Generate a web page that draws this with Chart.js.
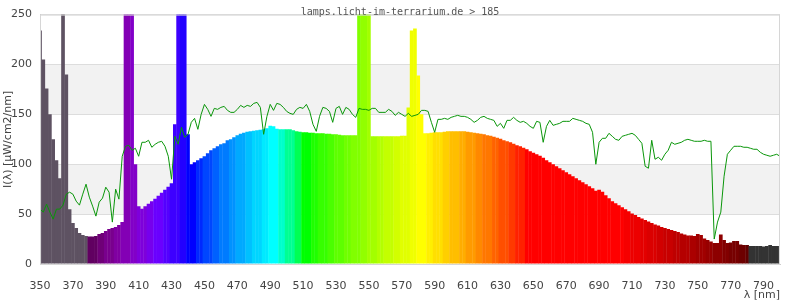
<!DOCTYPE html>
<html>
<head>
<meta charset="utf-8">
<script src="https://cdn.jsdelivr.net/npm/chart.js@4/dist/chart.umd.min.js"></script>
<style>
  body { margin: 0; background: #fff; }
  canvas { display: block; }
</style>
</head>
<body>
<canvas id="spectrum" width="800" height="300"></canvas>
<script>
// wellenlaengen: 350..800 nm, alle 2 nm
const wlStart = 350;
const wlStep = 2;

// Lampenspektrum (farbige Flaeche)
const lampValues = [
  234, 205, 176, 150, 125, 104, 86, 290, 190, 55,
  41, 36, 31, 29, 28, 27.5, 27.5, 28, 30, 31,
  33, 35, 36, 37, 39, 42, 260, 300, 260, 100,
  58, 55.5, 58, 60.5, 63, 65.5, 68.5, 71.5, 74.5, 77.5,
  81, 140, 300, 300, 300, 130, 100, 102, 104, 106,
  108, 111, 114, 116, 118, 120, 121, 124, 125, 127,
  129, 130.5, 131.5, 132.5, 133, 133.5, 134, 134.5, 135, 136,
  138.5, 138, 135.5, 135, 135, 135, 135, 134, 133, 132.5,
  132, 132, 131.5, 131.5, 131, 131, 131, 130.5, 130.5, 130,
  130, 129.5, 129, 129, 129, 129, 129, 300, 300, 300,
  300, 128, 128, 128, 128, 128, 128, 128, 128, 128,
  128.5, 128.5, 157, 234, 236, 189, 150, 131, 131, 131.5,
  132, 132, 132, 132.5, 133, 133, 133, 133, 133, 133,
  132.5, 132, 131.5, 131, 130.5, 130, 129, 128.5, 127.5, 126.5,
  125.5, 124, 123, 122, 120.5, 119, 118, 116.5, 115, 113,
  111.5, 110, 108.5, 106.5, 104, 102, 100, 98, 96, 94,
  92, 90, 88, 86, 84, 82, 80, 78, 76, 73.5,
  74.5, 72.5, 69, 66, 63, 61, 59, 57, 55, 53,
  50.5, 49, 47, 45.5, 44, 42.5, 41, 39.5, 38.5, 37,
  36, 35, 34, 33, 32, 30.5, 29.5, 28.5, 28.5, 28,
  30, 29, 25.5, 24, 22.5, 21, 21, 29.5, 24, 21,
  21.5, 23, 23, 19.5, 19, 19, 18, 18, 18, 18,
  17.5, 18, 19, 18, 18, 18
];

// Referenz (gruene Linie)
const sunValues = [
  55, 52, 60, 52, 45, 55, 55, 59, 70, 72,
  70, 63, 59, 70, 80, 67, 58, 48, 62, 66,
  77, 72, 42, 75, 65, 108, 118, 119, 114, 116,
  108, 122, 122, 124, 117, 120, 122, 123, 118, 108,
  85, 128, 120, 137, 127, 130, 142, 146, 135, 150,
  160, 155, 148, 156, 155, 157, 158, 154, 152, 152,
  155, 159, 157, 159, 158, 161, 162, 157, 130, 148,
  160, 154, 161, 160, 157, 153, 151, 150, 155, 157,
  156, 160, 153, 140, 133, 148, 157, 156, 153, 142,
  156, 158, 150, 157, 155, 150, 147, 156, 155, 155,
  154, 156, 156, 152, 152, 152, 155, 153, 149, 152,
  150, 148, 151, 148, 149, 150, 154, 154, 153, 142,
  132, 145, 145, 146, 145, 147, 148, 149, 148, 148,
  147, 145, 142, 144, 147, 148, 146, 145, 144, 138,
  141, 136, 144, 144, 147, 144, 142, 143, 141, 138,
  136, 143, 142, 122, 138, 144, 139, 140, 141, 143,
  143, 143, 146, 145, 144, 143, 141, 140, 132, 100,
  122, 126, 126, 131, 128, 125, 124, 128, 129, 130,
  131, 129, 125, 121, 98, 96, 124, 105, 107, 104,
  110, 114, 122, 120, 121, 122, 124, 125, 124, 123,
  123, 123, 124, 123, 123, 25, 42, 52, 88, 110,
  114, 118, 118, 118, 117, 117, 116, 115, 115, 112,
  110, 109, 108, 109, 110, 108
];

const xTicks = [350, 370, 390, 410, 430, 450, 470, 490, 510, 530, 550, 570, 590, 610, 630, 650, 670, 690, 710, 730, 750, 770, 790];
const yTicks = [0, 50, 100, 150, 200, 250];

const chartTitle = "lamps.licht-im-terrarium.de > 185";
const yTitle = "I(\u03bb) [\u00b5W/cm2/nm]";
const xTitle = "\u03bb [nm]";

const wavelengths = lampValues.map((_, i) => wlStart + i * wlStep);

// Farbe zur Wellenlaenge (Bruton), in 5-nm-Stufen
function specColor(w) {
  if (w < 379) return "#5e5262";
  if (w > 781) return "#333333";
  w = Math.min(780, Math.max(380, Math.floor(w / 5) * 5));
  let r = 0, g = 0, b = 0;
  if (w < 440) { r = -(w - 440) / 60; b = 1; }
  else if (w < 490) { g = (w - 440) / 50; b = 1; }
  else if (w < 510) { g = 1; b = -(w - 510) / 20; }
  else if (w < 580) { r = (w - 510) / 70; g = 1; }
  else if (w < 645) { r = 1; g = -(w - 645) / 65; }
  else { r = 1; }
  let f = 1;
  if (w < 420) f = 0.3 + 0.7 * (w - 380) / 40;
  else if (w > 700) f = 0.3 + 0.7 * (780 - w) / 80;
  const c = (v) => (v === 0 ? 0 : Math.round(255 * Math.pow(v * f, 0.8)));
  return "rgb(" + c(r) + "," + c(g) + "," + c(b) + ")";
}

const bgPlugin = {
  id: "bands",
  beforeDraw(chart) {
    const { ctx, chartArea: a, scales: { y } } = chart;
    ctx.save();
    ctx.fillStyle = "#fff";
    ctx.fillRect(0, 0, chart.width, chart.height);
    ctx.fillStyle = "#f2f2f2";
    for (let i = 1; i < yTicks.length - 1; i += 2) {
      const top = y.getPixelForValue(yTicks[i + 1]);
      const bot = y.getPixelForValue(yTicks[i]);
      ctx.fillRect(a.left, top, a.right - a.left, bot - top);
    }
    ctx.restore();
  },
  afterDraw(chart) {
    const { ctx, chartArea: a } = chart;
    ctx.save();
    ctx.strokeStyle = "#d6d6d6";
    ctx.lineWidth = 1;
    ctx.strokeRect(a.left + 0.5, a.top + 0.5, a.right - a.left - 1, a.bottom - a.top);

    ctx.fillStyle = "#555";
    ctx.font = "10px 'DejaVu Sans Mono'";
    ctx.textAlign = "center";
    ctx.textBaseline = "middle";
    ctx.fillText(chartTitle, 400, 12);

    ctx.fillStyle = "#444";
    ctx.font = "11px 'DejaVu Sans'";
    ctx.textAlign = "right";
    ctx.fillText(xTitle, a.right, 295);

    ctx.translate(8, (a.top + a.bottom) / 2);
    ctx.rotate(-Math.PI / 2);
    ctx.textAlign = "center";
    ctx.fillText(yTitle, 0, 0);
    ctx.restore();
  }
};

const ctx = document.getElementById("spectrum");
new Chart(ctx, {
  type: "bar",
  data: {
    datasets: [
      {
        type: "line",
        data: wavelengths.map((w, i) => ({ x: w, y: sunValues[i] })),
        borderColor: "#0a960a",
        borderWidth: 1,
        pointRadius: 0,
        tension: 0,
        order: 0,
      },
      {
        type: "bar",
        data: wavelengths.map((w, i) => ({ x: w, y: lampValues[i] })),
        backgroundColor: wavelengths.map(specColor),
        borderWidth: 0,
        barPercentage: 1.12,
        categoryPercentage: 1,
        order: 1,
      },
    ],
  },
  options: {
    responsive: false,
    animation: false,
    devicePixelRatio: 1,
    layout: { padding: { top: 3, right: 20, left: 0, bottom: 0 } },
    plugins: {
      legend: { display: false },
      tooltip: { enabled: false },
    },
    scales: {
      x: {
        type: "linear",
        min: 350,
        max: 800,
        offset: false,
        grid: { display: false },
        border: { display: true, color: "#cccccc" },
        ticks: {
          color: "#444",
          font: { family: "DejaVu Sans", size: 11 },
          padding: 8,
          autoSkip: false,
          maxRotation: 0,
        },
        afterBuildTicks: (scale) => {
          scale.ticks = xTicks.map((v) => ({ value: v }));
        },
        afterFit: (scale) => {
          scale.height = 36;
        },
      },
      y: {
        min: 0,
        max: 250,
        grid: { color: "#dddddd", drawTicks: false },
        border: { display: true, color: "#cccccc" },
        ticks: {
          color: "#444",
          font: { family: "DejaVu Sans", size: 11 },
          padding: 8,
        },
        afterBuildTicks: (scale) => {
          scale.ticks = yTicks.map((v) => ({ value: v }));
        },
        afterFit: (scale) => {
          scale.width = 40;
        },
      },
    },
  },
  plugins: [bgPlugin],
});
</script>
</body>
</html>
